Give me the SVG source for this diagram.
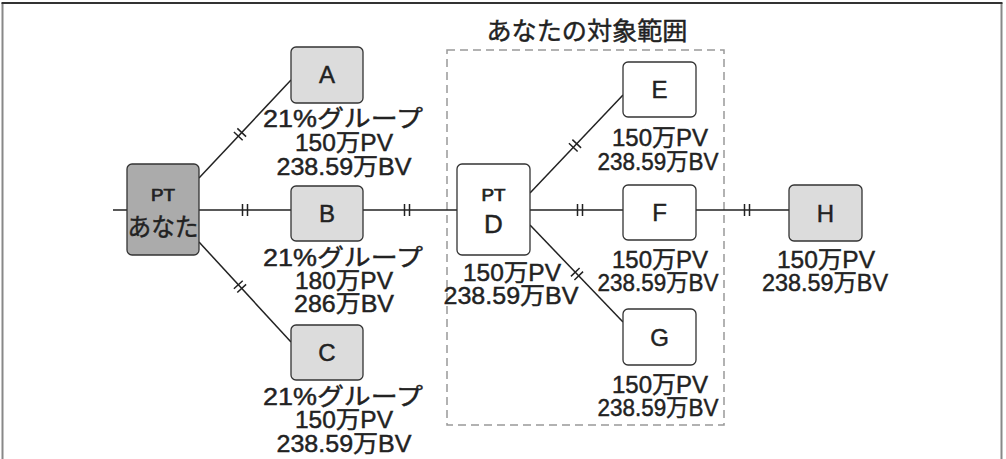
<svg xmlns="http://www.w3.org/2000/svg" xmlns:xlink="http://www.w3.org/1999/xlink" width="1006" height="459" viewBox="0 0 1006 459">
<style>
.frame{fill:none;stroke:#888;stroke-width:2}
.frametop{stroke:#333;stroke-width:2}
.node{stroke:#333;stroke-width:1.3}
.dark{fill:#ababab}
.light{fill:#dcdcdc}
.white{fill:#fff}
.ln{fill:none;stroke:#222;stroke-width:1.5}
.range{fill:none;stroke:#999;stroke-width:1.5;stroke-dasharray:8 5}
text{font-family:"Liberation Sans","Noto Sans CJK JP",sans-serif;fill:#222;text-anchor:middle;stroke:#222;stroke-width:0.45}
.lbl{font-size:23.5px}
.nm{font-size:24px}
.pt{font-size:16px;stroke-width:0.7}
.title{font-size:25px}
</style>
<defs>
<path id="brk" d="M-2.5,-6 V6 M2.5,-6 V6" fill="none" stroke="#222" stroke-width="1.5"/>
</defs>
<g id="frame">
<line class="frame" x1="2.5" y1="3" x2="2.5" y2="459"/>
<line class="frame" x1="1001.5" y1="3" x2="1001.5" y2="459"/>
<line class="frametop" x1="1.5" y1="3" x2="1002.5" y2="3"/>
</g>
<g id="range">
<rect class="range" x="447" y="50" width="277" height="375"/>
<text class="title" x="587" y="40" textLength="201" lengthAdjust="spacingAndGlyphs">あなたの対象範囲</text>
</g>
<g id="connectors">
<line class="ln" x1="113" y1="210" x2="127" y2="210"/>
<line class="ln" x1="199" y1="178" x2="291" y2="80"/>
<line class="ln" x1="199" y1="210" x2="291" y2="210"/>
<line class="ln" x1="199" y1="242" x2="291" y2="342"/>
<line class="ln" x1="363" y1="210" x2="457" y2="210"/>
<line class="ln" x1="530" y1="193" x2="623" y2="95"/>
<line class="ln" x1="530" y1="210" x2="623" y2="210"/>
<line class="ln" x1="530" y1="225" x2="623" y2="322"/>
<line class="ln" x1="696" y1="210" x2="789" y2="210"/>
<use xlink:href="#brk" transform="translate(240,134.3) rotate(-46.8)"/>
<use xlink:href="#brk" transform="translate(245,210)"/>
<use xlink:href="#brk" transform="translate(240,286.6) rotate(47.4)"/>
<use xlink:href="#brk" transform="translate(407,210)"/>
<use xlink:href="#brk" transform="translate(575,145.6) rotate(-46.5)"/>
<use xlink:href="#brk" transform="translate(580,210)"/>
<use xlink:href="#brk" transform="translate(577,274) rotate(46.2)"/>
<use xlink:href="#brk" transform="translate(747,210)"/>
</g>
<g id="node-you">
<rect class="node dark" x="127" y="164" width="72" height="91" rx="5"/>
<text class="pt" x="163" y="201" textLength="24" lengthAdjust="spacingAndGlyphs">PT</text>
<text x="163" y="236" style="font-size:25px" textLength="71" lengthAdjust="spacingAndGlyphs">あなた</text>
</g>
<g id="node-A">
<rect class="node light" x="291" y="47" width="72" height="56" rx="5"/>
<text class="nm" x="327" y="83">A</text>
<text class="lbl" x="343" y="127" textLength="160" lengthAdjust="spacingAndGlyphs">21%グループ</text>
<text class="lbl" x="344" y="151" textLength="98" lengthAdjust="spacingAndGlyphs">150万PV</text>
<text class="lbl" x="344" y="175" textLength="135" lengthAdjust="spacingAndGlyphs">238.59万BV</text>
</g>
<g id="node-B">
<rect class="node light" x="291" y="186" width="72" height="55" rx="5"/>
<text class="nm" x="327" y="222">B</text>
<text class="lbl" x="343" y="266" textLength="160" lengthAdjust="spacingAndGlyphs">21%グループ</text>
<text class="lbl" x="344" y="289" textLength="98" lengthAdjust="spacingAndGlyphs">180万PV</text>
<text class="lbl" x="344" y="312" textLength="100" lengthAdjust="spacingAndGlyphs">286万BV</text>
</g>
<g id="node-C">
<rect class="node light" x="291" y="325" width="72" height="55" rx="5"/>
<text class="nm" x="327" y="361">C</text>
<text class="lbl" x="343" y="405" textLength="160" lengthAdjust="spacingAndGlyphs">21%グループ</text>
<text class="lbl" x="344" y="428" textLength="98" lengthAdjust="spacingAndGlyphs">150万PV</text>
<text class="lbl" x="344" y="452" textLength="135" lengthAdjust="spacingAndGlyphs">238.59万BV</text>
</g>
<g id="node-D">
<rect class="node white" x="457" y="164" width="73" height="91" rx="5"/>
<text class="pt" x="493.5" y="201" textLength="24" lengthAdjust="spacingAndGlyphs">PT</text>
<text x="493.5" y="233" style="font-size:26px">D</text>
<text class="lbl" x="512" y="281" textLength="98" lengthAdjust="spacingAndGlyphs">150万PV</text>
<text class="lbl" x="511" y="304" textLength="135" lengthAdjust="spacingAndGlyphs">238.59万BV</text>
</g>
<g id="node-E">
<rect class="node white" x="623" y="62" width="73" height="55" rx="5"/>
<text class="nm" x="659.5" y="98">E</text>
<text class="lbl" x="660" y="146" textLength="96" lengthAdjust="spacingAndGlyphs">150万PV</text>
<text class="lbl" x="658" y="170" textLength="121" lengthAdjust="spacingAndGlyphs">238.59万BV</text>
</g>
<g id="node-F">
<rect class="node white" x="623" y="185" width="73" height="55" rx="5"/>
<text class="nm" x="659.5" y="221">F</text>
<text class="lbl" x="660" y="268" textLength="96" lengthAdjust="spacingAndGlyphs">150万PV</text>
<text class="lbl" x="658" y="291" textLength="121" lengthAdjust="spacingAndGlyphs">238.59万BV</text>
</g>
<g id="node-G">
<rect class="node white" x="623" y="309" width="73" height="56" rx="5"/>
<text class="nm" x="659.5" y="346">G</text>
<text class="lbl" x="660" y="393" textLength="96" lengthAdjust="spacingAndGlyphs">150万PV</text>
<text class="lbl" x="658" y="416" textLength="121" lengthAdjust="spacingAndGlyphs">238.59万BV</text>
</g>
<g id="node-H">
<rect class="node light" x="789" y="185" width="73" height="56" rx="5"/>
<text class="nm" x="825.5" y="222">H</text>
<text class="lbl" x="826" y="268" textLength="98" lengthAdjust="spacingAndGlyphs">150万PV</text>
<text class="lbl" x="825" y="291" textLength="126" lengthAdjust="spacingAndGlyphs">238.59万BV</text>
</g>
</svg>
